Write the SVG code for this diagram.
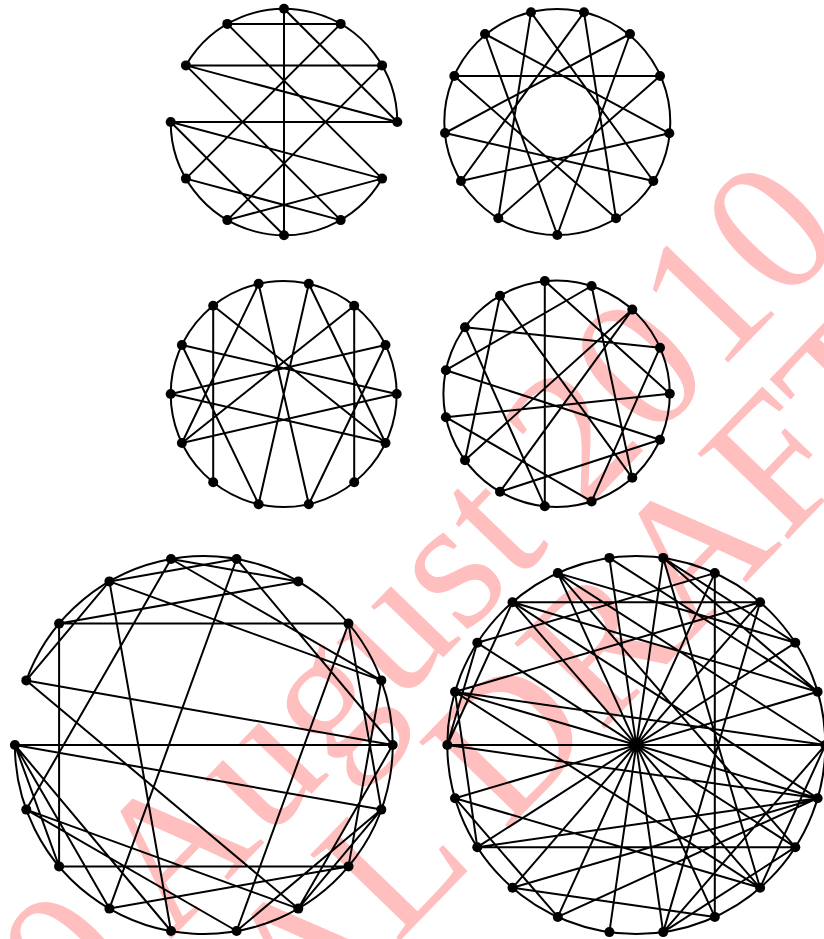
<svg xmlns="http://www.w3.org/2000/svg" width="824" height="939" viewBox="0 0 824 939">
<style>
.e{stroke:#000;stroke-width:2;fill:none}
.v{fill:#000}
.wm{font-family:"Liberation Serif",serif;font-size:190px;fill:#ff0000;fill-opacity:0.25}
</style>
<rect width="824" height="939" fill="#fff"/>
<g id="watermark">
<text class="wm" transform="translate(12.4,1103.6) rotate(-46)">20 August 2010</text>
<text class="wm" transform="translate(88,1264) rotate(-46)">FINAL DRAFT</text>
</g>
<g id="connectors">
<!-- graph 1 -->
<path class="e" d="M185.9,65.4 A113.3,113.3 0 0 1 397.3,122 M382.1,178.6 A113.3,113.3 0 0 1 170.7,122"/>
<path class="e" d="M227.3,23.9L340.7,23.9 M185.9,65.4L382.1,65.4 M170.7,122L397.3,122 M284,8.7L284,235.3 M284,8.7L397.3,122 M227.3,23.9L382.1,178.6 M185.9,65.4L340.7,220.1 M170.7,122L284,235.3 M340.7,23.9L185.9,178.6 M382.1,65.4L227.3,220.1 M185.9,65.4L397.3,122 M170.7,122L382.1,178.6 M185.9,178.6L340.7,220.1 M227.3,220.1L382.1,178.6"/>
<!-- graph 2 -->
<circle class="e" cx="557.3" cy="122" r="113"/>
<path class="e" d="M557.3,235L485,34 M498.3,218.3L531,12.3 M461,181L584,12.3 M445,133L630,34 M454.3,76L660,76 M485,34L669.3,133.3 M531,12.3L653.3,181 M584,12.3L616,218.3 M630,34L557.3,235 M660,76L498.3,218.3 M669.3,133.3L461,181 M653.3,181L445,133 M616,218.3L454.3,76"/>
<!-- graph 3 -->
<circle class="e" cx="283.7" cy="394" r="113"/>
<path class="e" d="M213.2,305.7L213.2,482.3 M354.2,305.7L354.2,482.3 M181.9,345L396.7,394 M181.9,443L396.7,394 M170.7,394L385.5,345 M170.7,394L385.5,443 M181.9,345L258.6,504.2 M385.5,345L308.8,504.2 M181.9,443L354.2,305.7 M385.5,443L213.2,305.7 M258.6,283.8L308.8,504.2 M308.8,283.8L258.6,504.2 M258.6,283.8L181.9,443 M308.8,283.8L385.5,443"/>
<!-- graph 4 -->
<circle class="e" cx="556.6" cy="393.7" r="113.2"/>
<path class="e" d="M544.8,281.1L544.8,506.3 M544.8,281.1L669.8,393.7 M591.6,286L632.3,477.8 M591.6,286L445.9,370.2 M632.3,309.6L465,460.2 M632.3,309.6L500,491.7 M500,295.7L632.3,477.8 M500,295.7L465,460.2 M465,327.2L660,347.7 M465,327.2L544.8,506.3 M445.9,370.2L660,439.7 M445.9,417.2L669.8,393.7 M445.9,417.2L591.6,501.4 M660,347.7L591.6,501.4 M660,439.7L500,491.7"/>
<!-- graph 5 -->
<path class="e" d="M14.9,745 A188.9,188.9 0 1 0 26.3,680.4"/>
<path class="e" d="M14.9,745L392.7,745 M59.1,623.6L348.5,623.6 M59.1,866.4L348.5,866.4 M59.1,623.6L59.1,866.4 M59.1,623.6L298.3,581.4 M109.4,581.4L381.3,680.4 M109.4,581.4L171,931 M171,559L26.3,809.6 M26.3,680.4L392.7,745 M26.3,680.4L109.4,581.4 M236.6,559L109.4,908.6 M14.9,745L381.3,809.6 M26.3,680.4L298.3,908.6 M348.5,623.6L236.6,931 M26.3,809.6L298.3,908.6 M26.3,809.6L236.6,931 M14.9,745L59.1,866.4 M14.9,745L109.4,908.6 M14.9,745L171,931 M109.4,908.6L348.5,866.4 M236.6,931L381.3,809.6 M298.3,908.6L381.3,809.6 M171,559L298.3,581.4 M236.6,559L109.4,581.4 M171,559L381.3,680.4 M236.6,559L392.7,745 M348.5,623.6L381.3,809.6 M381.3,680.4L348.5,866.4 M392.7,745L298.3,908.6"/>
<!-- graph 6 -->
<circle class="e" cx="636.3" cy="745" r="189"/>
<path class="e" d="M825.3,745L447.3,745 M817.6,691.8L455,798.2 M795.3,642.8L477.3,847.2 M760.1,602.2L512.5,887.8 M714.8,573.1L557.8,916.9 M663.2,557.9L609.4,932.1 M609.4,557.9L663.2,932.1 M557.8,573.1L714.8,916.9 M512.5,602.2L760.1,887.8 M477.3,642.8L795.3,847.2 M455,691.8L817.6,798.2 M714.8,573.1L714.8,916.9 M512.5,602.2L760.1,602.2 M477.3,847.2L795.3,847.2 M557.8,573.1L825.3,745 M557.8,573.1L795.3,847.2 M512.5,602.2L817.6,798.2 M477.3,642.8L714.8,573.1 M455,691.8L760.1,602.2 M455,691.8L477.3,847.2 M447.3,745L512.5,602.2 M447.3,745L477.3,642.8 M447.3,745L817.6,798.2 M455,798.2L557.8,916.9 M455,798.2L760.1,887.8 M825.3,745L760.1,887.8 M817.6,798.2L477.3,847.2 M663.2,932.1L825.3,745 M663.2,932.1L795.3,847.2 M760.1,887.8L455,691.8 M455,691.8L825.3,745 M609.4,557.9L817.6,691.8 M663.2,557.9L795.3,642.8 M663.2,557.9L817.6,691.8 M663.2,557.9L760.1,887.8 M760.1,602.2L663.2,932.1 M817.6,691.8L512.5,602.2 M795.3,642.8L557.8,573.1 M512.5,887.8L817.6,798.2 M512.5,887.8L714.8,916.9 M557.8,916.9L817.6,798.2"/>
</g>
<g id="g1" class="v">
<circle cx="284" cy="8.7" r="5"/><circle cx="340.7" cy="23.9" r="5"/><circle cx="382.1" cy="65.4" r="5"/><circle cx="397.3" cy="122" r="5"/><circle cx="382.1" cy="178.6" r="5"/><circle cx="340.7" cy="220.1" r="5"/><circle cx="284" cy="235.3" r="5"/><circle cx="227.3" cy="220.1" r="5"/><circle cx="185.9" cy="178.6" r="5"/><circle cx="170.7" cy="122" r="5"/><circle cx="185.9" cy="65.4" r="5"/><circle cx="227.3" cy="23.9" r="5"/>
</g>
<g id="g2" class="v">
<circle cx="557.3" cy="235" r="5"/><circle cx="498.3" cy="218.3" r="5"/><circle cx="461" cy="181" r="5"/><circle cx="445" cy="133" r="5"/><circle cx="454.3" cy="76" r="5"/><circle cx="485" cy="34" r="5"/><circle cx="531" cy="12.3" r="5"/><circle cx="584" cy="12.3" r="5"/><circle cx="630" cy="34" r="5"/><circle cx="660" cy="76" r="5"/><circle cx="669.3" cy="133.3" r="5"/><circle cx="653.3" cy="181" r="5"/><circle cx="616" cy="218.3" r="5"/>
</g>
<g id="g3" class="v">
<circle cx="396.7" cy="394" r="5"/><circle cx="385.5" cy="345" r="5"/><circle cx="354.2" cy="305.7" r="5"/><circle cx="308.8" cy="283.8" r="5"/><circle cx="258.6" cy="283.8" r="5"/><circle cx="213.2" cy="305.7" r="5"/><circle cx="181.9" cy="345" r="5"/><circle cx="170.7" cy="394" r="5"/><circle cx="181.9" cy="443" r="5"/><circle cx="213.2" cy="482.3" r="5"/><circle cx="258.6" cy="504.2" r="5"/><circle cx="308.8" cy="504.2" r="5"/><circle cx="354.2" cy="482.3" r="5"/><circle cx="385.5" cy="443" r="5"/>
</g>
<g id="g4" class="v">
<circle cx="669.8" cy="393.7" r="5"/><circle cx="660" cy="347.7" r="5"/><circle cx="632.3" cy="309.6" r="5"/><circle cx="591.6" cy="286" r="5"/><circle cx="544.8" cy="281.1" r="5"/><circle cx="500" cy="295.7" r="5"/><circle cx="465" cy="327.2" r="5"/><circle cx="445.9" cy="370.2" r="5"/><circle cx="445.9" cy="417.2" r="5"/><circle cx="465" cy="460.2" r="5"/><circle cx="500" cy="491.7" r="5"/><circle cx="544.8" cy="506.3" r="5"/><circle cx="591.6" cy="501.4" r="5"/><circle cx="632.3" cy="477.8" r="5"/><circle cx="660" cy="439.7" r="5"/>
</g>
<g id="g5" class="v">
<circle cx="392.7" cy="745" r="5"/><circle cx="381.3" cy="680.4" r="5"/><circle cx="348.5" cy="623.6" r="5"/><circle cx="298.3" cy="581.4" r="5"/><circle cx="236.6" cy="559" r="5"/><circle cx="171" cy="559" r="5"/><circle cx="109.4" cy="581.4" r="5"/><circle cx="59.1" cy="623.6" r="5"/><circle cx="26.3" cy="680.4" r="5"/><circle cx="14.9" cy="745" r="5"/><circle cx="26.3" cy="809.6" r="5"/><circle cx="59.1" cy="866.4" r="5"/><circle cx="109.4" cy="908.6" r="5"/><circle cx="171" cy="931" r="5"/><circle cx="236.6" cy="931" r="5"/><circle cx="298.3" cy="908.6" r="5"/><circle cx="348.5" cy="866.4" r="5"/><circle cx="381.3" cy="809.6" r="5"/>
</g>
<g id="g6" class="v">
<circle cx="825.3" cy="745" r="5"/><circle cx="817.6" cy="691.8" r="5"/><circle cx="795.3" cy="642.8" r="5"/><circle cx="760.1" cy="602.2" r="5"/><circle cx="714.8" cy="573.1" r="5"/><circle cx="663.2" cy="557.9" r="5"/><circle cx="609.4" cy="557.9" r="5"/><circle cx="557.8" cy="573.1" r="5"/><circle cx="512.5" cy="602.2" r="5"/><circle cx="477.3" cy="642.8" r="5"/><circle cx="455" cy="691.8" r="5"/><circle cx="447.3" cy="745" r="5"/><circle cx="455" cy="798.2" r="5"/><circle cx="477.3" cy="847.2" r="5"/><circle cx="512.5" cy="887.8" r="5"/><circle cx="557.8" cy="916.9" r="5"/><circle cx="609.4" cy="932.1" r="5"/><circle cx="663.2" cy="932.1" r="5"/><circle cx="714.8" cy="916.9" r="5"/><circle cx="760.1" cy="887.8" r="5"/><circle cx="795.3" cy="847.2" r="5"/><circle cx="817.6" cy="798.2" r="5"/>
</g>
</svg>
